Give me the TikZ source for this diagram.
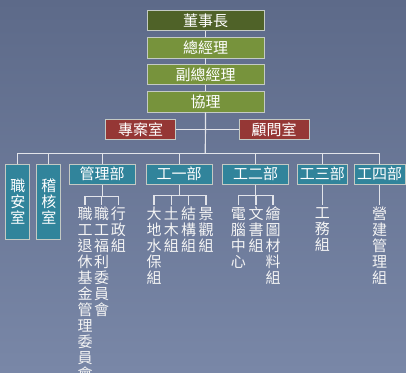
\documentclass[tikz,border=0pt]{standalone}
\usepackage{fontspec}
\setmainfont{Noto Sans CJK TC}
\definecolor{bgtop}{HTML}{5D6A89}
\definecolor{bgbot}{HTML}{7987A7}
\definecolor{darkolive}{HTML}{4F6228}
\definecolor{olive}{HTML}{77933C}
\definecolor{redbox}{HTML}{953735}
\definecolor{tealbox}{HTML}{31849B}
\definecolor{boxline}{HTML}{C4CAC4}
\definecolor{linec}{HTML}{E2E4EA}
\definecolor{txt}{HTML}{F4F4F4}
\begin{document}
\begin{tikzpicture}[x=1pt,y=-1pt,
  box/.style={draw=boxline, line width=0.9pt, text=white, font=\fontsize{15}{16}\selectfont, inner sep=0pt, minimum height=20.5pt},
  headbox/.style={box, fill=olive, minimum width=117pt},
  staffbox/.style={box, fill=redbox, minimum width=70pt},
  deptbox/.style={box, fill=tealbox},
  vbox/.style={box, fill=tealbox, minimum width=24pt, minimum height=75pt, align=center},
  vtext/.style={text=txt, font=\fontsize{15}{16}\selectfont, align=center, inner xsep=0pt, inner ysep=2pt, anchor=north},
  conn/.style={draw=linec, line width=1.2pt}]
\shade[top color=bgtop, bottom color=bgbot] (0,0) rectangle (406,372);
\useasboundingbox (0,0) rectangle (406,372);

% top chain
\node[headbox, fill=darkolive] (dong) at (205.5,20.5) {董事長};
\node[headbox] (zong) at (205.5,47.7) {總經理};
\node[headbox] (fu) at (205.5,74.5) {副總經理};
\node[headbox] (xie) at (205.5,101.7) {協理};
\node[staffbox] (zhuan) at (140.7,129.5) {專案室};
\node[staffbox] (gu) at (274.2,129.5) {顧問室};

% departments
\node[vbox] (zhian) at (17.8,201.5) {職\\安\\室};
\node[vbox] (jihe) at (48.8,201.5) {稽\\核\\室};
\node[deptbox, minimum width=66pt] (guanli) at (102.2,174.2) {管理部};
\node[deptbox, minimum width=66pt] (g1) at (179.2,174.2) {工一部};
\node[deptbox, minimum width=66pt] (g2) at (255.5,174.2) {工二部};
\node[deptbox, minimum width=50pt] (g3) at (322.3,174.2) {工三部};
\node[deptbox, minimum width=51pt] (g4) at (379.7,174.2) {工四部};

% sections
\node[vtext] (m1) at (85,205) {職\\工\\退\\休\\基\\金\\管\\理\\委\\員\\會};
\node[vtext] (m2) at (101.7,205) {職\\工\\福\\利\\委\\員\\會};
\node[vtext] (m3) at (118.3,205) {行\\政\\組};
\node[vtext] (a1) at (154,205) {大\\地\\水\\保\\組};
\node[vtext] (a2) at (171.3,205) {土\\木\\組};
\node[vtext] (a3) at (188.7,205) {結\\構\\組};
\node[vtext] (a4) at (206,205) {景\\觀\\組};
\node[vtext] (b1) at (238.3,205) {電\\腦\\中\\心};
\node[vtext] (b2) at (256,205) {文\\書\\組};
\node[vtext] (b3) at (273,205) {繪\\圖\\材\\料\\組};
\node[vtext] (c1) at (322.3,205) {工\\務\\組};
\node[vtext] (d1) at (379.5,205) {營\\建\\管\\理\\組};

\coordinate (bar) at (205.3,153.3);

% connectors
\draw[conn] (dong) -- (zong);
\draw[conn] (zong) -- (fu);
\draw[conn] (fu) -- (xie);
\draw[conn] (xie.south) -- (bar);
\draw[conn] (zhuan.east) -- (gu.west);
\draw[conn] (zhian.north) |- (bar) -| (g4.north);
\foreach \n in {jihe,guanli,g1,g2,g3}{\draw[conn] (\n.north) -- (\n.north |- bar);}

\coordinate (mbar) at (102.2,196.7);
\draw[conn] (guanli.south) -- (mbar);
\draw[conn] (m1.north) |- (mbar) -| (m3.north);
\draw[conn] (m2.north) -- (m2.north |- mbar);

\coordinate (abar) at (179.2,195.5);
\draw[conn] (g1.south) -- (abar);
\draw[conn] (a1.north) |- (abar) -| (a4.north);
\foreach \n in {a2,a3}{\draw[conn] (\n.north) -- (\n.north |- abar);}

\coordinate (bbar) at (255.5,195.5);
\draw[conn] (g2.south) -- (bbar);
\draw[conn] (b1.north) |- (bbar) -| (b3.north);
\draw[conn] (b2.north) -- (b2.north |- bbar);

\draw[conn] (g3.south) -- (c1.north);
\draw[conn] (g4.south) -- (g4.south |- d1.north);
\end{tikzpicture}
\end{document}
